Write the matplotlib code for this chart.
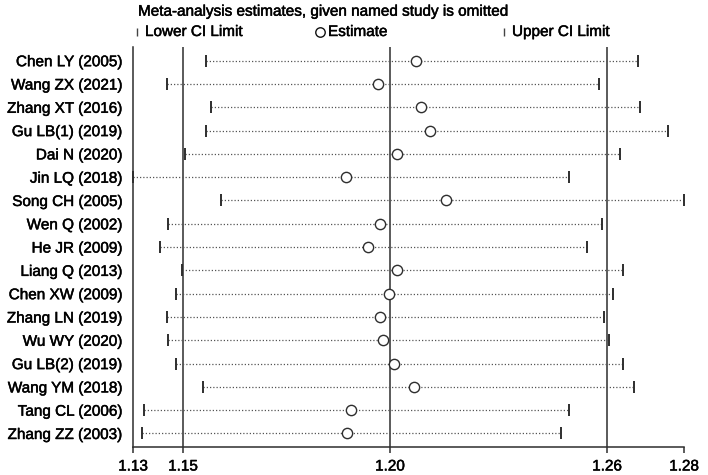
import numpy as np
import matplotlib
matplotlib.use("Agg")
import matplotlib.pyplot as plt
import matplotlib.patheffects as pe

plt.rcParams['font.family'] = ['Liberation Sans', 'DejaVu Sans']

# values
studies = ["Chen LY (2005)", "Wang ZX (2021)", "Zhang XT (2016)", "Gu LB(1) (2019)",
           "Dai N (2020)", "Jin LQ (2018)", "Song CH (2005)", "Wen Q (2002)",
           "He JR (2009)", "Liang Q (2013)", "Chen XW (2009)", "Zhang LN (2019)",
           "Wu WY (2020)", "Gu LB(2) (2019)", "Wang YM (2018)", "Tang CL (2006)",
           "Zhang ZZ (2003)"]
lower = [1.1540, 1.1436, 1.1554, 1.1540, 1.1485, 1.1346, 1.1581, 1.1440, 1.1418,
         1.1476, 1.1460, 1.1436, 1.1440, 1.1460, 1.1532, 1.1376, 1.1371]
estimate = [1.2100, 1.1998, 1.2112, 1.2137, 1.2049, 1.1912, 1.2180, 1.2003, 1.1972,
            1.2049, 1.2028, 1.2003, 1.2011, 1.2042, 1.2093, 1.1926, 1.1915]
upper = [1.2691, 1.2588, 1.2697, 1.2770, 1.2642, 1.2507, 1.2813, 1.2595, 1.2554,
         1.2650, 1.2623, 1.2599, 1.2612, 1.2651, 1.2680, 1.2507, 1.2486]
# pooled estimate with all studies: lower CI, estimate, upper CI
overall = [1.1479, 1.2030, 1.2608]

title = "Meta-analysis estimates, given named study is omitted"

line_col = "#2e2e2e"
dot_col = "#555555"
txt_col = "#000000"
heavy = [pe.withStroke(linewidth=0.35, foreground=txt_col)]

fig = plt.figure(figsize=(7.08, 4.75), dpi=100)
ax = fig.add_axes([133 / 708, 28 / 475, (684 - 133) / 708, (447 - 46.7) / 475])

n = len(studies)
rows = np.arange(1, n + 1)

for v in overall:
    ax.axvline(v, color=line_col, lw=1.1, zorder=1)

for i in range(n):
    ax.plot([lower[i], upper[i]], [rows[i], rows[i]], color=dot_col, lw=0.9,
            ls=(0, (1, 1.6)), zorder=2)
ax.plot(lower, rows, ls='none', marker='|', ms=8.5, mew=1.4, color=line_col,
        zorder=3, clip_on=False)
ax.plot(upper, rows, ls='none', marker='|', ms=8.5, mew=1.4, color=line_col,
        zorder=3, clip_on=False)
ax.plot(estimate, rows, ls='none', marker='o', ms=7.4, mfc='white', mec=line_col,
        mew=1.0, zorder=4)

xmin, xmax = min(lower), max(upper)
ax.set_xlim(xmin, xmax)
ax.set_ylim(n + 0.58, 0.4)

xt = [xmin] + overall + [xmax]
ax.set_xticks(xt, ["%.2f" % v for v in xt], fontsize=11)
ax.set_yticks(rows, studies, fontsize=11)
ax.tick_params(axis='x', length=4, width=1.1, color=line_col, pad=5, labelcolor=txt_col)
ax.tick_params(axis='y', length=0, pad=7.5, labelcolor=txt_col)
for t in ax.get_xticklabels() + ax.get_yticklabels():
    t.set_path_effects(heavy)

for s in ['top', 'right']:
    ax.spines[s].set_visible(False)
for s in ['left', 'bottom']:
    ax.spines[s].set_color(line_col)
    ax.spines[s].set_linewidth(1.1)

# title and legend row above the plot
fig.text(138 / 708, 1 - 15.7 / 475, title, fontsize=11, color=txt_col, va='baseline',
         path_effects=heavy)
leg_y = 1 - 31.7 / 475
fig.lines.append(plt.Line2D([137 / 708], [leg_y], transform=fig.transFigure, ls='none',
                            marker='|', ms=6, mew=1.0, color='#444444'))
fig.text(145 / 708, 1 - 36 / 475, "Lower CI Limit", fontsize=11, color=txt_col,
         va='baseline', path_effects=heavy)
fig.lines.append(plt.Line2D([320 / 708], [leg_y], transform=fig.transFigure, ls='none',
                            marker='o', ms=6.8, mfc='none', mec='#111111', mew=1.0))
fig.text(328 / 708, 1 - 36 / 475, "Estimate", fontsize=11, color=txt_col,
         va='baseline', path_effects=heavy)
fig.lines.append(plt.Line2D([504 / 708], [leg_y], transform=fig.transFigure, ls='none',
                            marker='|', ms=6, mew=1.0, color='#444444'))
fig.text(512 / 708, 1 - 36 / 475, "Upper CI Limit", fontsize=11, color=txt_col,
         va='baseline', path_effects=heavy)

fig.savefig("out.png", dpi=100)
